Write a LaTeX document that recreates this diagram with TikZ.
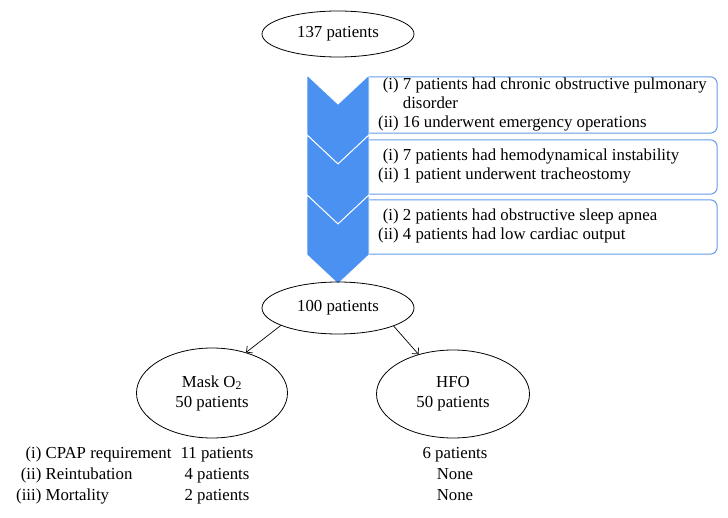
\documentclass[tikz,border=0pt]{standalone}
\usepackage{fontspec}
\setmainfont{Liberation Serif}
\usetikzlibrary{shapes.geometric,arrows.meta}
\definecolor{chevblue}{RGB}{74,145,242}
\definecolor{boxblue}{RGB}{100,155,232}
\tikzset{
  oval/.style={ellipse,draw=black,line width=0.8pt,inner sep=0pt,align=center,font=\fontsize{16.8}{20}\selectfont},
  listbox/.style={minimum width=348pt,inner sep=0pt},
  boxline/.style={draw=boxblue,line width=1pt,rounded corners=7pt},
  listtext/.style={anchor=west,inner sep=0pt,font=\fontsize{16.8}{19}\selectfont},
  tabtext/.style={anchor=north,inner sep=0pt,font=\fontsize{16.8}{21}\selectfont},
  arr/.style={line width=0.7pt,-{Straight Barb[length=4.5pt,width=9pt]}}
}
\begin{document}
\begin{tikzpicture}[x=1pt,y=-1pt]
\useasboundingbox (0,0) rectangle (728,518);
% boxes
\node[listbox,minimum height=56pt](b1) at (543,105){};
\node[listbox,minimum height=54pt](b2) at (543,167){};
\node[listbox,minimum height=54pt](b3) at (543,227){};
\foreach \b in {b1,b2,b3}{
  \draw[boxline](\b.north west)--(\b.north east)--(\b.south east)--(\b.south west);
}
% chevron
\foreach \t in {75,135,195}{
  \filldraw[fill=chevblue,draw=white,line width=0.9pt]
    (307,\t) -- (338,\t+29) -- (369,\t) -- (369,\t+60) -- (338,\t+89) -- (307,\t+60) -- cycle;
}
\node[listtext](t1) at (378,105){\begin{tabular}{@{}r@{\ }l@{}}(i)&7 patients had chronic obstructive pulmonary\\&disorder\\(ii)&16 underwent emergency operations\end{tabular}};
\node[listtext](t2) at (378,166){\begin{tabular}{@{}r@{\ }l@{}}(i)&7 patients had hemodynamical instability\\(ii)&1 patient underwent tracheostomy\end{tabular}};
\node[listtext](t3) at (378,226){\begin{tabular}{@{}r@{\ }l@{}}(i)&2 patients had obstructive sleep apnea\\(ii)&4 patients had low cardiac output\end{tabular}};
% ellipses
\node[oval,minimum width=152pt,minimum height=46pt](all) at (338,34){137 patients};
\node[oval,minimum width=152pt,minimum height=52pt](mid) at (338,308){100 patients};
\node[oval,minimum width=151pt,minimum height=90pt](mask) at (212,393){Mask O\textsubscript{2}\\50 patients};
\node[oval,minimum width=153pt,minimum height=88pt](hfo) at (453,394){HFO\\50 patients};
\draw[arr](mid.197)--(mask.50);
\draw[arr](mid.342)--(hfo.131);
% outcomes
\node[tabtext,anchor=north west](out) at (16,444){\begin{tabular}{@{}r@{\ }l@{}}(i)&CPAP requirement\\(ii)&Reintubation\\(iii)&Mortality\end{tabular}};
\node[tabtext](outmask) at (217,444){\begin{tabular}{@{}c@{}}11 patients\\4 patients\\2 patients\end{tabular}};
\node[tabtext](outhfo) at (455,444){\begin{tabular}{@{}c@{}}6 patients\\None\\None\end{tabular}};
\end{tikzpicture}
\end{document}
